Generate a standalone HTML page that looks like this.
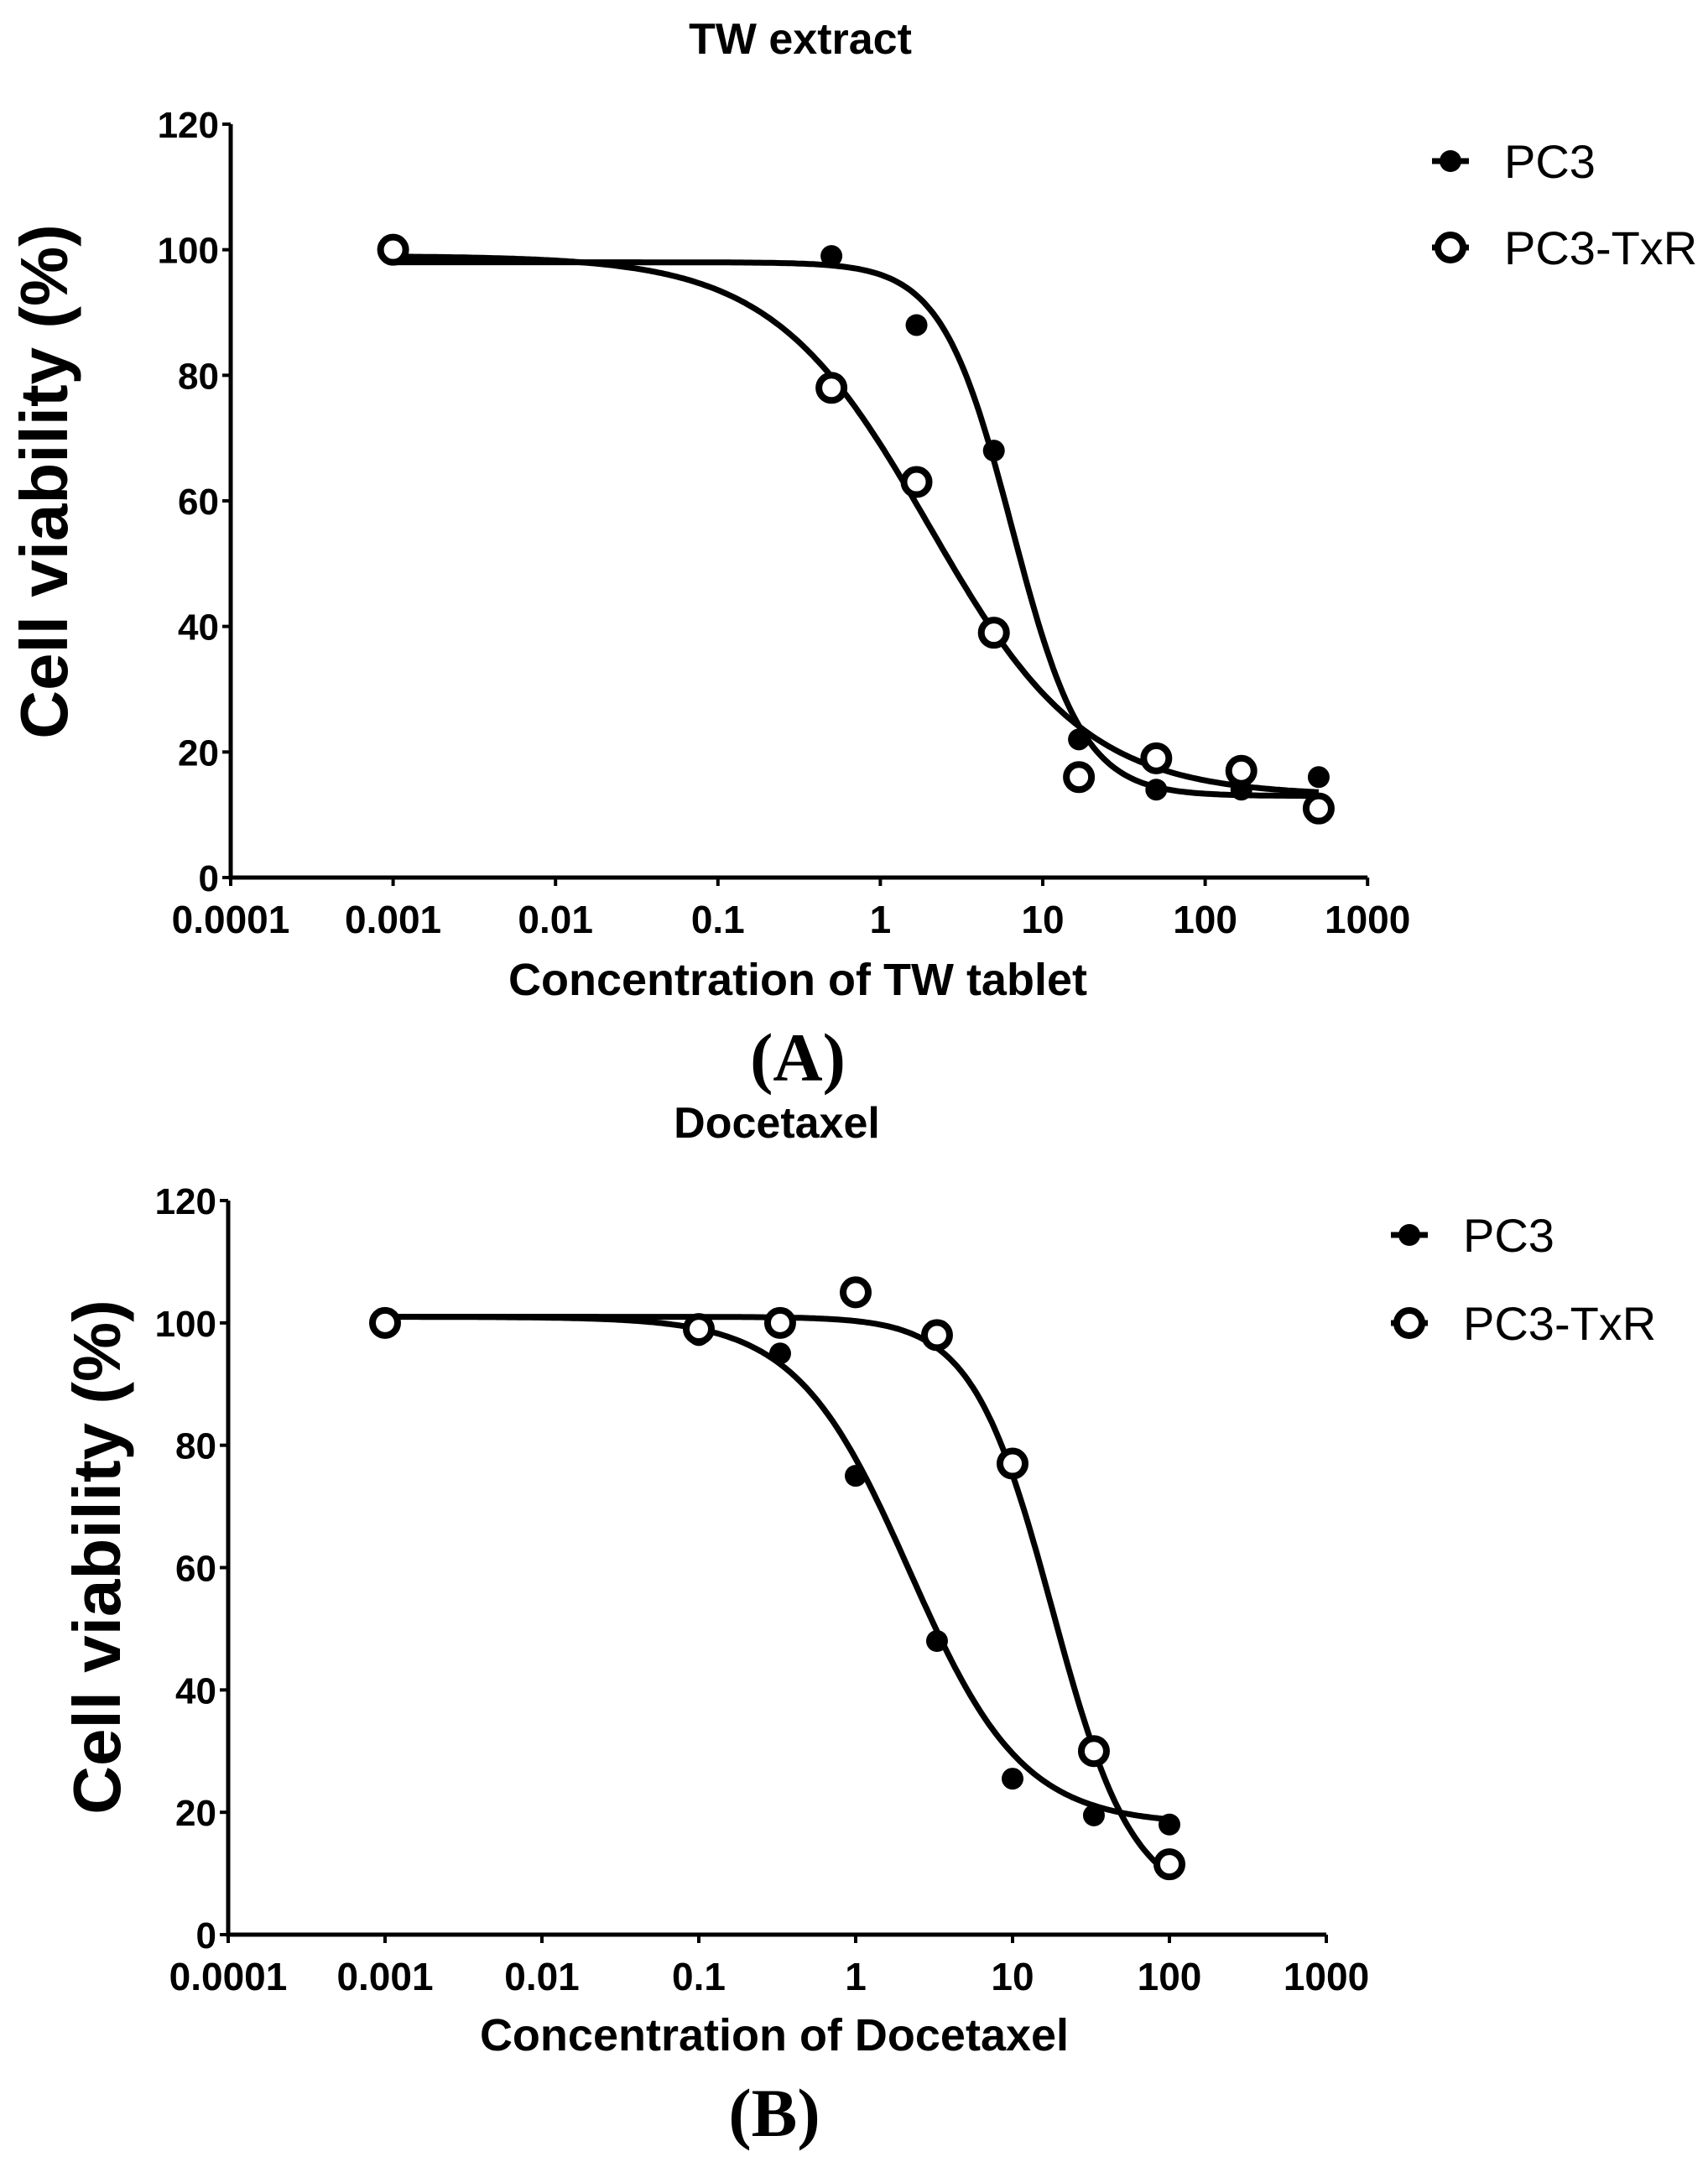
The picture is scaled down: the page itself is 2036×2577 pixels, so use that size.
<!DOCTYPE html>
<html><head><meta charset="utf-8"><style>
html,body{margin:0;padding:0;background:#fff;}
svg{display:block;}
text{font-family:"Liberation Sans",sans-serif;fill:#000;}
</style></head><body>
<svg id="chart" width="2036" height="2577" xmlns="http://www.w3.org/2000/svg"></svg>
<script>
const xTicks = [0.0001,0.001,0.01,0.1,1,10,100,1000];
const xTickLabels = ["0.0001","0.001","0.01","0.1","1","10","100","1000"];
const yTicks = [0,20,40,60,80,100,120];
const seriesNames = ["PC3","PC3-TxR"];
const aPC3X = [0.001,0.5,1.67,5,16.7,50,167,500];
const aPC3Y = [100,99,88,68,22,14,14,16];
const aTxRX = [0.001,0.5,1.67,5,16.7,50,167,500];
const aTxRY = [100,78,63,39,16,19,17,11];
const bPC3X = [0.001,0.1,0.33,1,3.3,10,33,100];
const bPC3Y = [100,98,95,75,48,25.5,19.5,18];
const bTxRX = [0.001,0.1,0.33,1,3.3,10,33,100];
const bTxRY = [100,99,100,105,98,77,30,11.5];
// 4PL fit params: [top,bottom,ic50,hill]
const aPC3Fit = [98,13,6.5,2];
const aTxRFit = [99,13,2,0.9];
const bPC3Fit = [101,18,2.2,1.2];
const bTxRFit = [101,5,18,1.7];

const NS="http://www.w3.org/2000/svg";
const svg=document.getElementById('chart');
function el(tag,attrs,parent){const e=document.createElementNS(NS,tag);for(const k in attrs)e.setAttribute(k,attrs[k]);(parent||svg).appendChild(e);return e;}

function panel(p){
  const g=el('g',{});
  
  
  const sx=v=>p.x0+(Math.log10(v)+4)*p.dec;
  const sy=v=>p.y0-(v/120)*(p.y0-p.y120);
  const t=el('text',{x:p.titleX,y:p.titleY,'text-anchor':'middle','font-size':52,'font-weight':'bold'},g);t.textContent=p.title;
  
  const ax=el('path',{d:`M${p.x0},${p.y120} V${p.y0} H${sx(1000)}`,stroke:'#000','stroke-width':5,fill:'none'},g);
  
  yTicks.forEach(v=>{
    el('line',{x1:p.x0-10,x2:p.x0,y1:sy(v),y2:sy(v),stroke:'#000','stroke-width':4},g);
    const tl=el('text',{x:p.x0-14,y:sy(v)+16,'text-anchor':'end','font-size':44,'font-weight':'bold'},g);tl.textContent=v;
    
  });
  xTicks.forEach((v,i)=>{
    el('line',{x1:sx(v),x2:sx(v),y1:p.y0,y2:p.y0+10,stroke:'#000','stroke-width':4},g);
    const tl=el('text',{x:sx(v),y:p.y0+66,'text-anchor':'middle','font-size':46,'font-weight':'bold'},g);tl.textContent=xTickLabels[i];
    
  });
  const xt=el('text',{x:p.xTitleX,y:p.xTitleY,'text-anchor':'middle','font-size':54,'font-weight':'bold'},g);xt.textContent=p.xTitle;
  
  const yt=el('text',{x:0,y:0,'text-anchor':'middle','font-size':80,'font-weight':'bold',transform:`translate(${p.yTitleX},${p.yTitleY}) rotate(-90)`},g);yt.textContent="Cell viability (%)";
  
  const lab=el('text',{x:p.xTitleX,y:p.labelY,'text-anchor':'middle','font-size':82,'font-weight':'bold',style:'font-family:"Liberation Serif",serif'},g);lab.textContent=p.label;
  
  [[p.fit1,p.xs1],[p.fit2,p.xs2]].forEach(([f,xs],k)=>{
    let d='';const lo=Math.log10(xs[0]),hi=Math.log10(xs[xs.length-1]);
    for(let i=0;i<=300;i++){const lx=lo+(hi-lo)*i/300;const x=Math.pow(10,lx);
      const y=f[1]+(f[0]-f[1])/(1+Math.pow(x/f[2],f[3]));d+=(i?'L':'M')+sx(x).toFixed(1)+','+sy(y).toFixed(1);}
    const c=el('path',{d,stroke:'#000','stroke-width':7,fill:'none'},g);
    
  });
  p.xs1.forEach((x,i)=>{const m=el('circle',{cx:sx(x),cy:sy(p.ys1[i]),r:13,fill:'#000'},g);
    });
  p.xs2.forEach((x,i)=>{const m=el('circle',{cx:sx(x),cy:sy(p.ys2[i]),r:15,fill:'#fff',stroke:'#000','stroke-width':8},g);
    });
  seriesNames.forEach((n,i)=>{
    const ly=p.legY[i];
    const lg=el('g',{},g);
    
    el('line',{x1:p.legX-22,x2:p.legX+22,y1:ly,y2:ly,stroke:'#000','stroke-width':7},lg);
    if(i==0)el('circle',{cx:p.legX,cy:ly,r:13,fill:'#000'},lg);
    else el('circle',{cx:p.legX,cy:ly,r:15,fill:'#fff',stroke:'#000','stroke-width':8},lg);
    const tx=el('text',{x:p.legX+64,y:ly+20,'font-size':56},lg);tx.textContent=n;
  });
}
panel({name:'panel-a',title:'TW extract',titleX:954,titleY:64,x0:275,dec:193.6,y0:1046,y120:148,
  xTitle:'Concentration of TW tablet',xTitleX:951,xTitleY:1186,yTitleX:80,yTitleY:574,label:'(A)',labelY:1288,
  xs1:aPC3X,ys1:aPC3Y,xs2:aTxRX,ys2:aTxRY,fit1:aPC3Fit,fit2:aTxRFit,legX:1729,legY:[192,295]});
panel({name:'panel-b',title:'Docetaxel',titleX:926,titleY:1356,x0:272,dec:187,y0:2306,y120:1431,
  xTitle:'Concentration of Docetaxel',xTitleX:923,xTitleY:2444,yTitleX:143,yTitleY:1856,label:'(B)',labelY:2546,
  xs1:bPC3X,ys1:bPC3Y,xs2:bTxRX,ys2:bTxRY,fit1:bPC3Fit,fit2:bTxRFit,legX:1680,legY:[1472,1577]});
</script>
</body></html>
